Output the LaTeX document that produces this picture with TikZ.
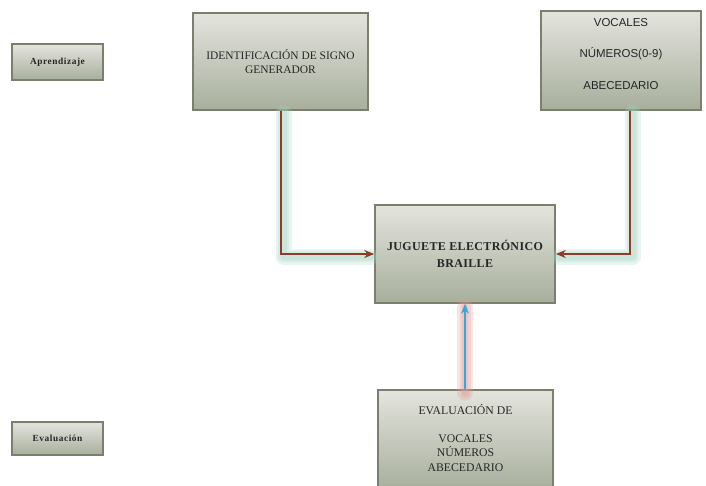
\documentclass[tikz,border=0pt]{standalone}
\usepackage{fontspec}
\setmainfont{Liberation Serif}
\newfontfamily\arialf{Liberation Sans}
\newfontfamily\spacedbf[LetterSpace=6]{Liberation Serif Bold}
\newfontfamily\spacedbfs[LetterSpace=3]{Liberation Serif Bold}
\usetikzlibrary{arrows.meta}
\definecolor{boxtop}{HTML}{E4E4DE}
\definecolor{boxbot}{HTML}{A7AF9C}
\definecolor{boxedge}{HTML}{7C7F6C}
\definecolor{brownarr}{HTML}{8E3B2A}
\definecolor{bluearr}{HTML}{3AA6DC}
\definecolor{greenglow}{HTML}{9FD3BE}
\definecolor{redglow}{HTML}{E09A90}
\tikzset{
  box/.style={draw=boxedge, line width=1.2pt, top color=boxtop, bottom color=boxbot,
    align=center, inner sep=0pt, text=black!85},
  boxtext/.style={align=center, inner sep=0pt, text=black!85},
  garrow/.style={draw=brownarr, line width=1.1pt, -{Stealth[length=7.5pt,width=6pt]}},
  barrow/.style={draw=bluearr, line width=1.1pt, -{Stealth[length=7.5pt,width=6pt]}},
  gglow/.style={draw=greenglow, line width=#1, opacity=0.24, line join=round, line cap=round},
  rglow/.style={draw=redglow, line width=#1, opacity=0.25, line join=round, line cap=round},
}
\begin{document}
\begin{tikzpicture}[x=0.75pt,y=-0.75pt]
\clip (0,0) rectangle (706,485);
\fill[white] (0,0) rectangle (706,485);
% boxes
\node[box, minimum width=68.25pt, minimum height=27pt,
  font=\spacedbf\fontsize{7}{8}\selectfont] (apr) at (57.5,62) {Aprendizaje};
\node[box, minimum width=68.25pt, minimum height=24.75pt,
  font=\spacedbf\fontsize{7}{8}\selectfont] (evl) at (57.5,438.5) {Evaluación};
\node[box, minimum width=131.25pt, minimum height=72.75pt,
  font=\fontsize{8.6}{11}\selectfont] (ident) at (280.5,61.5)
  {IDENTIFICACIÓN DE SIGNO\\GENERADOR};
\node[box, minimum width=120pt, minimum height=74.25pt] (voc) at (621,60.5) {};
\node[boxtext, font=\arialf\fontsize{8.6}{23.5}\selectfont] (voct) at (621,54)
  {VOCALES\\NÚMEROS(0-9)\\ABECEDARIO};
\node[box, minimum width=135pt, minimum height=73.5pt,
  font=\spacedbfs\fontsize{9}{12.5}\selectfont] (jug) at (465,254)
  {JUGUETE ELECTRÓNICO\\BRAILLE};
\node[box, minimum width=131.25pt, minimum height=75pt] (evd) at (465.5,440) {};
\node[boxtext, font=\fontsize{8.8}{11}\selectfont] (evdt) at (465.5,438)
  {EVALUACIÓN DE\\[10pt]VOCALES\\NÚMEROS\\ABECEDARIO};
% corner coordinates for connectors
\coordinate (c1) at (281,254);
\coordinate (c2) at (630,254);
\coordinate (s1) at (281,110);
\coordinate (s2) at (630,110);
\coordinate (j1) at (375,254);
\coordinate (j2) at (555,254);
\coordinate (e1) at (465,390);
\coordinate (j3) at (465,303);
% glows
\foreach \w in {16,11,6}{
  \draw[gglow=\w*0.75pt] ([xshift=2pt,yshift=-2pt]s1) -- ([xshift=2pt,yshift=-2pt]c1) -- ([xshift=-3pt,yshift=-2pt]j1);
  \draw[gglow=\w*0.75pt] ([xshift=2pt,yshift=-2pt]s2) -- ([xshift=2pt,yshift=-2pt]c2) -- ([xshift=3pt,yshift=-2pt]j2);
  \draw[rglow=\w*0.75pt] ([yshift=-2pt]e1) -- ([yshift=-3pt]j3);
}
% connectors
\draw[garrow] (ident.south -| s1) -- (c1) -- (jug.west |- c1);
\draw[garrow] (voc.south -| s2) -- (c2) -- (jug.east |- c2);
\draw[barrow] (evd.north -| e1) -- (jug.south -| e1);
\end{tikzpicture}
\end{document}
